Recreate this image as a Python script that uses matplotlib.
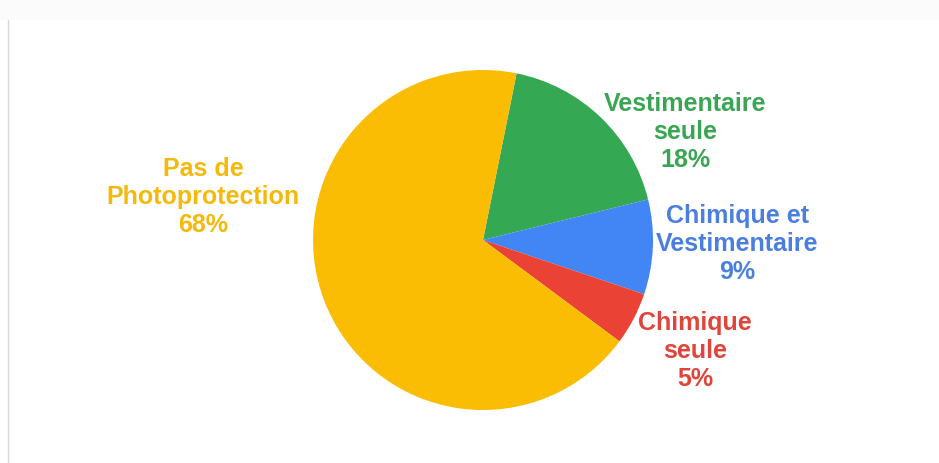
import matplotlib
matplotlib.use("Agg")
from matplotlib import pyplot as plt

# share of each kind of sun protection
labels = ["Vestimentaire\nseule", "Chimique et\nVestimentaire", "Chimique\nseule", "Pas de\nPhotoprotection"]
values = [18, 9, 5, 68]
colors = ["#34A853", "#4285F4", "#EA4335", "#FBBC04"]
text_colors = ["#3aa653", "#4a7fe0", "#e0443a", "#f5b90a"]

# where each label sits (pixels, from top-left)
label_pos = [(685, 132), (737, 244), (695, 351), (203, 197)]

W, H = 939, 463
fig = plt.figure(figsize=(W / 100, H / 100), dpi=100)
ax = fig.add_axes([0, 0, 1, 1])
ax.set_xlim(0, W)
ax.set_ylim(0, H)
ax.set_aspect("equal")
ax.axis("off")

# faint frame on the left / top
ax.plot([8, 8], [0, H - 20], color="#d8d8d8", lw=1)
ax.axhspan(H - 20, H, color="#fbfbfb", lw=0)

ax.pie(values, colors=colors, startangle=78.6, counterclock=False,
       center=(483, H - 240), radius=170, frame=True,
       wedgeprops={"linewidth": 0})
ax.set_xlim(0, W)
ax.set_ylim(0, H)
ax.axis("off")

for lab, v, c, (x, y) in zip(labels, values, text_colors, label_pos):
    ax.text(x, H - y, f"{lab}\n{v}%", color=c, ha="center", va="center",
            fontsize=18, fontweight="bold", family="Liberation Sans",
            linespacing=1.22)

fig.savefig("out.png", dpi=100)
